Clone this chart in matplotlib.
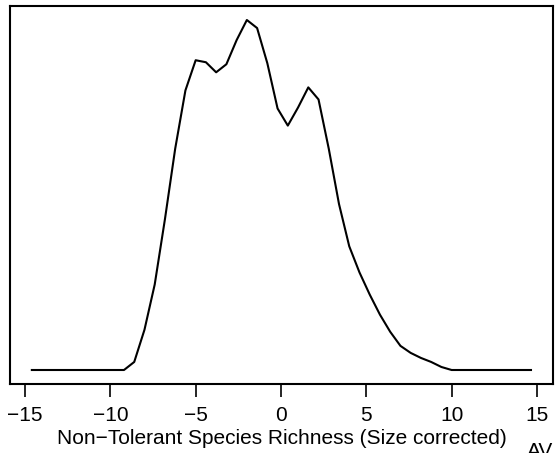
import numpy as np
import matplotlib
matplotlib.use("Agg")
import matplotlib.pyplot as plt

plt.rcParams['font.family'] = ['Liberation Sans', 'DejaVu Sans']

# density curve, x grid and height (arbitrary units)
x_vals = [-14.6, -9.2, -8.6, -8.0, -7.4, -6.8, -6.2, -5.6, -5.0, -4.4, -3.8,
          -3.2, -2.6, -2.0, -1.4, -0.8, -0.2, 0.4, 1.0, 1.6, 2.2, 2.8, 3.4,
          4.0, 4.6, 5.2, 5.8, 6.4, 7.0, 7.6, 8.2, 8.8, 9.4, 10.0, 14.65]
dens = [0.0, 0.0, 0.8, 4.0, 8.5, 15.0, 22.0, 27.8, 30.8, 30.6, 29.6,
        30.4, 32.8, 34.8, 34.0, 30.5, 26.0, 24.3, 26.1, 28.1, 26.9, 22.0, 16.5,
        12.3, 9.7, 7.5, 5.5, 3.8, 2.4, 1.7, 1.2, 0.8, 0.3, 0.0, 0.0]
dens = np.array(dens) / 100.0

xticks = [-15, -10, -5, 0, 5, 10, 15]
xlabel = "Non\u2212Tolerant Species Richness (Size corrected)"

fig = plt.figure(figsize=(5.57, 4.53), dpi=100)
ax = fig.add_axes([10 / 557, 1 - 384 / 453, 543 / 557, 378 / 453])
ax.plot(x_vals, dens, color="black", lw=1.5)

r = dens.max() - dens.min()
ax.set_ylim(dens.min() - 0.04 * r, dens.max() + 0.04 * r)
ax.set_xlim(-15.88, 15.94)
ax.set_yticks([])
ax.set_xticks(xticks)
ax.set_xticklabels([str(t).replace("-", "\u2212") for t in xticks], fontsize=15)
ax.tick_params(axis="x", length=9.5, width=1.2, pad=6.5)
for s in ax.spines.values():
    s.set_linewidth(1.5)
ax.set_xlabel(xlabel, fontsize=15, labelpad=3)

fig.text(527 / 557, 1 - 442 / 453, "AV", fontsize=15, va="top", ha="left")

plt.savefig("out.png", dpi=100)
